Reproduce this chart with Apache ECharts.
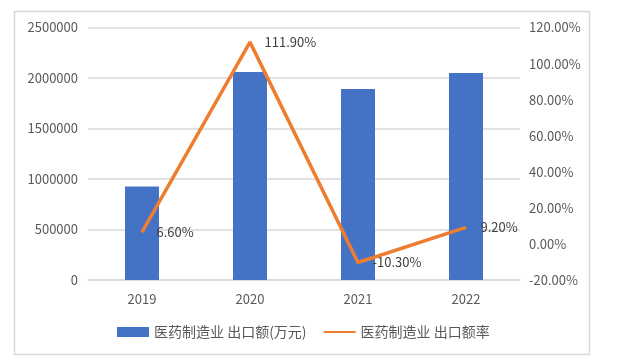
<!DOCTYPE html>
<html><head><meta charset="utf-8">
<script src="https://cdn.jsdelivr.net/npm/echarts@6/dist/echarts.min.js"></script>
<style>html,body{margin:0;padding:0;background:#fff}#c{width:622px;height:363px}</style>
</head><body><div id="c"></div>
<script>
const categories = ['2019','2020','2021','2022'];
const exportValues = [925000, 2059000, 1891000, 2049000];
const growthRates = [6.6, 111.9, -10.3, 9.2];
const barName = '医药制造业 出口额(万元)';
const lineName = '医药制造业 出口额率';
const FONT = "'Noto Sans CJK SC', sans-serif";
const chart = echarts.init(document.getElementById('c'), null, {renderer:'canvas'});
chart.setOption({
  backgroundColor:'#fff',
  animation:false,
  textStyle:{fontFamily:FONT},
  graphic:[{type:'rect',shape:{x:14.5,y:11.5,width:575,height:343},style:{fill:'none',stroke:'#d9d9d9',lineWidth:1.5},silent:true}],
  grid:{left:88,right:102,top:27.5,bottom:83,containLabel:false},
  legend:{
    bottom:19,left:112,itemGap:16,itemWidth:32,itemHeight:10,
    textStyle:{color:'#595959',fontSize:14,fontFamily:FONT},
    data:[{name:barName,icon:'rect'},{name:lineName,itemStyle:{opacity:0}}]
  },
  xAxis:{type:'category',data:categories,
    axisLine:{lineStyle:{color:'#d9d9d9',width:1.5}},axisTick:{show:false},
    axisLabel:{color:'#595959',fontSize:13,margin:13,fontFamily:FONT}},
  yAxis:[
    {type:'value',min:0,max:2500000,interval:500000,
     axisLine:{show:false},axisTick:{show:false},
     splitLine:{lineStyle:{color:'#d9d9d9',width:1.5}},
     axisLabel:{color:'#595959',fontSize:13,margin:10,fontFamily:FONT,formatter:v=>String(v)}},
    {type:'value',min:-20,max:120,interval:20,
     axisLine:{show:false},axisTick:{show:false},splitLine:{show:false},
     axisLabel:{color:'#595959',fontSize:13,margin:9,fontFamily:FONT,formatter:v=>v.toFixed(2)+'%'}}
  ],
  series:[
    {name:barName,type:'bar',data:exportValues,barWidth:34,itemStyle:{color:'#4472C4'}},
    {name:lineName,type:'line',yAxisIndex:1,data:growthRates,symbol:'circle',symbolSize:1,showSymbol:true,
     lineStyle:{color:'#ED7D31',width:3.5},itemStyle:{color:'#ED7D31'},
     label:{show:true,position:'right',distance:14,color:'#404040',fontSize:13,fontFamily:FONT,
       formatter:p=>p.value.toFixed(2)+'%'}}
  ]
});
</script></body></html>
